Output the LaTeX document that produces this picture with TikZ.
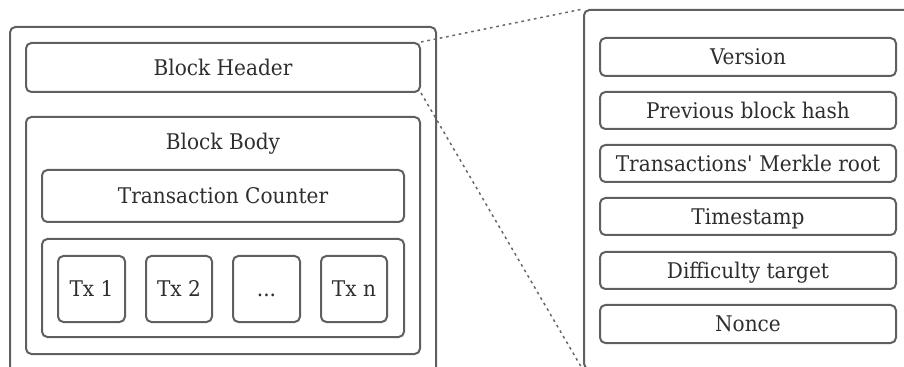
\documentclass[tikz,border=0pt]{standalone}
\usepackage{fontspec}
\setmainfont{DejaVu Serif}[FakeStretch=0.93]
\usetikzlibrary{fit}
\definecolor{linegray}{HTML}{5F5F5F}
\definecolor{textgray}{HTML}{2E2E2E}
\definecolor{dotgray}{HTML}{666666}
\begin{document}
\begin{tikzpicture}[x=0.75pt,y=-0.75pt,
  box/.style={draw=linegray, line width=1.5pt, rounded corners=4pt, inner sep=0pt},
  txt/.style={text=textgray, inner sep=0pt, text height=11.8pt, text depth=0pt,
    font=\fontsize{16.2pt}{19pt}\selectfont},
  link/.style={draw=dotgray, line width=1.1pt, dash pattern=on 2pt off 2.8pt}]
\useasboundingbox (0,0) rectangle (904,367);
\clip (0,0) rectangle (904,367);
% left block
\node[box, fit={(10,27)(436,420)}] (block) {};
\node[box, fit={(26,43)(420,92)}] (header) {};
\node[txt] (headertext) at (header.center) {Block Header};
\node[box, fit={(26,117)(420,354)}] (body) {};
\node[txt] (bodytitle) at (223,141.5) {Block Body};
\node[box, fit={(42,170)(404,222)}] (counter) {};
\node[txt] (countertext) at (counter.center) {Transaction Counter};
\node[box, fit={(42,239)(404,337)}] (txs) {};
\node[box, fit={(58,256)(125,322)}] (tx1) {};
\node[txt] (tx1text) at (tx1.center) {Tx 1};
\node[box, fit={(146,256)(212,322)}] (tx2) {};
\node[txt] (tx2text) at (tx2.center) {Tx 2};
\node[box, fit={(233,256)(300,322)}] (txdots) {};
\node[txt] (txdotstext) at (txdots.center) {...};
\node[box, fit={(321,256)(387,322)}] (txn) {};
\node[txt] (txntext) at (txn.center) {Tx n};
% right header detail
\node[box, fit={(584,10)(1000,369)}] (detail) {};
\node[box, fit={(600,38)(896,76)}] (version) {};
\node[txt] (versiontext) at (version.center) {Version};
\node[box, fit={(600,92)(896,129)}] (prev) {};
\node[txt] (prevtext) at (prev.center) {Previous block hash};
\node[box, fit={(600,145)(896,182)}] (merkle) {};
\node[txt] (merkletext) at (merkle.center) {Transactions\textquotesingle{} Merkle root};
\node[box, fit={(600,198)(896,235)}] (time) {};
\node[txt] (timetext) at (time.center) {Timestamp};
\node[box, fit={(600,252)(896,289)}] (diff) {};
\node[txt] (difftext) at (diff.center) {Difficulty target};
\node[box, fit={(600,305)(896,343)}] (nonce) {};
\node[txt] (noncetext) at (nonce.center) {Nonce};
% connectors
\draw[link] (header.north east) -- (detail.north west);
\draw[link] (header.south east) -- (detail.south west);
\end{tikzpicture}
\end{document}
